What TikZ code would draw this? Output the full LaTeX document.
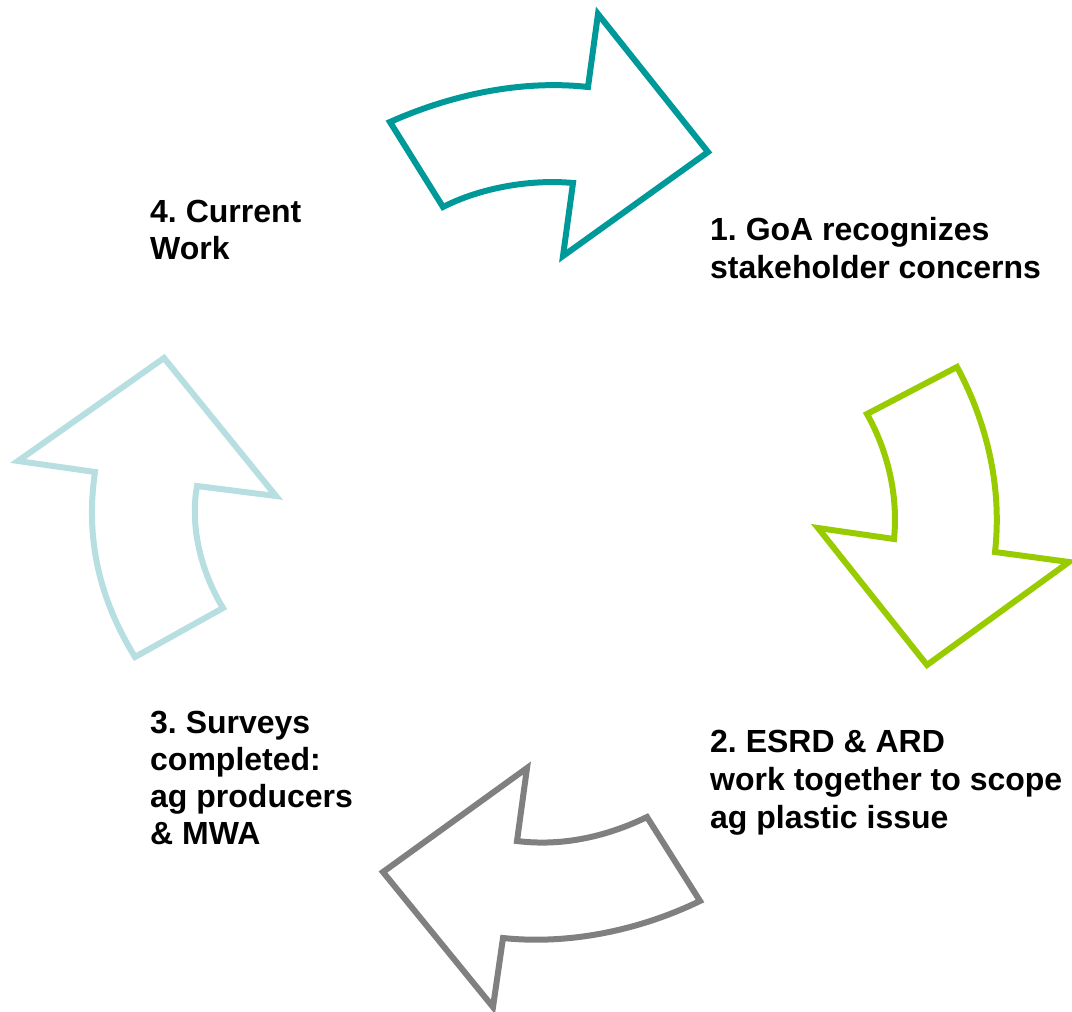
\documentclass[tikz,border=0pt]{standalone}
\usepackage{fontspec}
\setmainfont{Liberation Sans}
\definecolor{teal1}{RGB}{0,153,153}
\definecolor{green1}{RGB}{153,204,0}
\definecolor{gray1}{RGB}{128,128,128}
\definecolor{lblue1}{RGB}{183,222,224}
\tikzset{
  arrowshape/.style={line width=6pt, line join=miter},
  lbl/.style={anchor=base west, inner sep=0pt, align=left, font=\bfseries}
}
\begin{document}
\frenchspacing
\begin{tikzpicture}[x=1pt,y=-1pt]
\useasboundingbox (0,0) rectangle (1072,1012);
% teal arrow (top)
\draw[arrowshape, teal1] (390,122) .. controls (455,93) and (525,80) .. (588,87)
  -- (598,14) -- (708,152) -- (563,256) -- (573,183)
  .. controls (530,179) and (480,188) .. (443,207) -- cycle;
% green arrow (right)
\draw[arrowshape, green1] (867,414) -- (957,367)
  .. controls (983,415) and (1003,480) .. (995,552)
  -- (1069,562) -- (927,665) -- (818,528) -- (894,539)
  .. controls (898,500) and (890,455) .. cycle;
% gray arrow (bottom)
\draw[arrowshape, gray1] (647,817) -- (700,901)
  .. controls (640,930) and (570,945) .. (503,938)
  -- (493,1007) -- (383,872) -- (527,768) -- (517,841)
  .. controls (565,847) and (610,835) .. cycle;
% light blue arrow (left)
\draw[arrowshape, lblue1] (135,657) -- (223,608)
  .. controls (200,570) and (190,525) .. (197,486)
  -- (276,496) -- (164,358) -- (18,461) -- (95,472)
  .. controls (85,540) and (100,600) .. cycle;
\node[lbl, font=\fontsize{32}{38}\selectfont\bfseries] (t1) at (710,278) {1. GoA recognizes\\stakeholder concerns};
\node[lbl, font=\fontsize{32}{38}\selectfont\bfseries] (t2) at (710,828) {2. ESRD \& ARD\\work together to scope\\ag plastic issue};
\node[lbl, font=\fontsize{32}{37}\selectfont\bfseries] (t3) at (150,844) {3. Surveys\\completed:\\ag producers\\\& MWA};
\node[lbl, font=\fontsize{32}{37}\selectfont\bfseries] (t4) at (150,259) {4. Current\\Work};
\end{tikzpicture}
\end{document}
